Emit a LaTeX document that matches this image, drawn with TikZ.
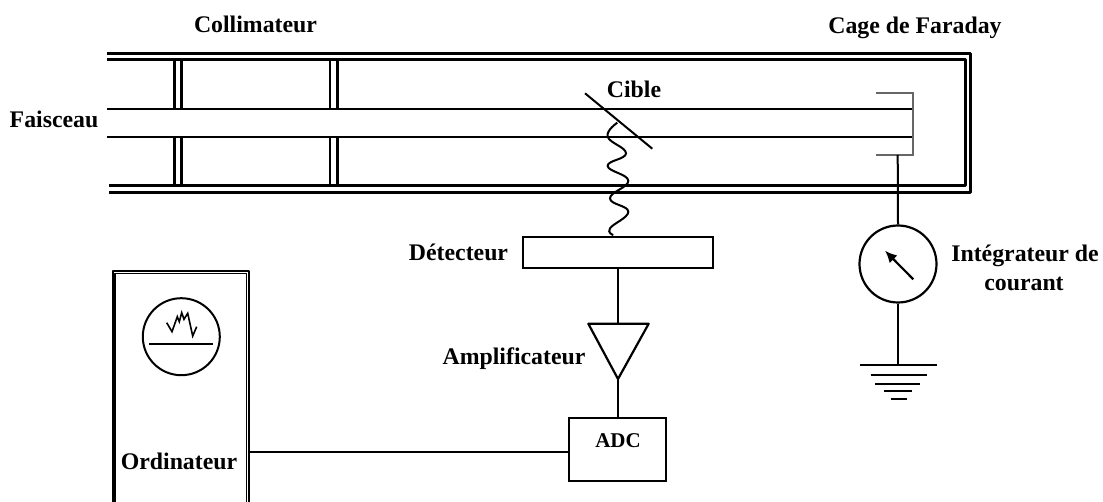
\documentclass[tikz,border=0pt]{standalone}
\usepackage{fontspec}
\setmainfont{Liberation Serif}
\usepackage{tikz}
\usetikzlibrary{arrows.meta}
\tikzset{
  label/.style={anchor=base,font=\fontsize{23.8}{28}\selectfont\bfseries,inner sep=0pt},
  tube/.style={line width=3pt,line join=round},
  fil/.style={line width=2pt},
  boite/.style={draw,line width=2.2pt,inner sep=0pt}
}
\begin{document}
\begin{tikzpicture}[x=1pt,y=-1pt]
\useasboundingbox (0,0) rectangle (1103,502);
% tube
  \draw[tube] (107,53.5)--(970.7,53.5)--(970.7,192.3)--(109,192.3);
  \draw[tube] (107,59.5)--(965.7,59.5)--(965.7,186)--(109,186);
% collimateur
  \foreach \xc in {174.7,181.3,330,337.3} {
    \draw[line width=2.6pt] (\xc,60)--(\xc,109);
    \draw[line width=2.6pt] (\xc,137)--(\xc,186);
  }
% faisceau
  \draw[fil] (107,109)--(913,109);
  \draw[fil] (107,136.7)--(913,136.7);
  \draw[fil] (585,93.3)--(652.3,148.7);
% cage
  \draw[fil,black!60] (875.7,92.7)--(913,92.7)--(913,155)--(875.7,155);
  \coordinate (cage) at (897.7,155);
  \node[draw,circle,line width=2.2pt,minimum size=77pt,inner sep=0pt] (integ) at (898,264) {};
  \draw[fil] (cage)--(integ.north);
  \draw[line width=2.2pt,-{Latex[length=12pt,width=11pt]}] (913.3,279.3)--(885,250.7);
  \coordinate (terre) at (898,365);
  \draw[fil] (integ.south)--(terre);
  \draw[fil] (860,365)--(937,365);
  \draw[fil] (870.7,375)--(926.7,375);
  \draw[fil] (875,384)--(920,384);
  \draw[fil] (884,391.3)--(912,391.3);
  \draw[fil] (890.7,399.3)--(906.7,399.3);
% detection
  \node[boite,minimum width=190pt,minimum height=31pt] (det) at (618.3,252.8) {};
  \coordinate (ampg) at (588.3,323.7);
  \coordinate (ampd) at (648.7,323.7);
  \coordinate (ampb) at (618,379);
  \coordinate (ampt) at (618,323.7);
  \draw[line width=2.2pt,line join=round] (ampg)--(ampd)--(ampb)--cycle;
  \node[boite,minimum width=96.7pt,minimum height=63.3pt] (adc) at (617.7,449.3) {};
  \draw[fil] (det.south-|ampt)--(ampt);
  \draw[fil] (ampb)--(adc.north-|ampb);
  \draw[line width=2pt] plot[smooth,tension=0.75] coordinates {(617.3,122.7)(607.7,136.7)(626,153.3)(607.7,166)(628.3,180.7)(610,198.3)(628.3,211.7)(610,228.3)(613.3,235)};
% ordinateur
  \draw[tube,line width=1.6pt] (112.7,506)--(112.7,271)--(249,271)--(249,506);
  \draw[tube,line width=1.6pt] (115,506)--(115,273.5)--(246.5,273.5)--(246.5,506);
  \coordinate (ordi) at (250,451.5);
  \draw[fil] (ordi)--(adc.west|-ordi);
  \node[draw,circle,line width=2pt,minimum size=77pt,inner sep=0pt] (ecran) at (181.3,336.7) {};
  \draw[fil] (149.3,343.7)--(213.3,343.7);
  \draw[line width=1.6pt] (166.7,322.7)--(172,331.7)--(177.3,316.7)--(179.3,321.7)--(181.7,312.7)--(184,319.3)--(187.7,313.3)--(192.7,336)--(196.7,326.7);
% textes
  \node[label] (collim) at (255.5,32.5) {Collimateur};
  \node[label] (faraday) at (915,34) {Cage de Faraday};
  \node[label] (faisc) at (54,128) {Faisceau};
  \node[label] (cible) at (634,98) {Cible};
  \node[label] (detect) at (458.5,261) {Détecteur};
  \node[label] (ampli) at (514,365) {Amplificateur};
  \node[label,font=\fontsize{21}{25}\selectfont\bfseries] (adctxt) at (618,447) {ADC};
  \node[label] (ordtxt) at (179,469.5) {Ordinateur};
  \node[label] (inttxt) at (1025,261.5) {Intégrateur de};
  \node[label] (courant) at (1024,291) {courant};
\end{tikzpicture}
\end{document}
